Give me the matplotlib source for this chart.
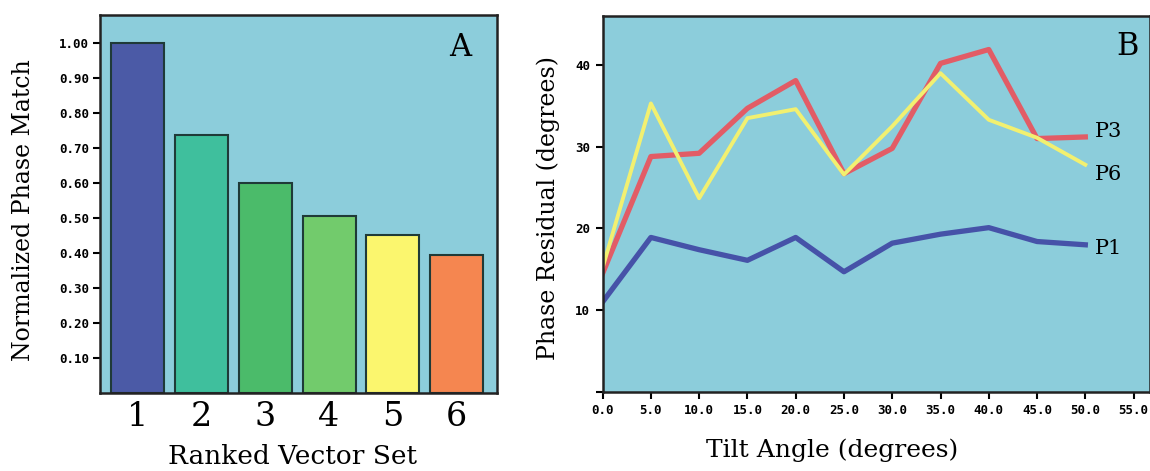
import matplotlib
matplotlib.use('Agg')
import matplotlib.pyplot as plt
import numpy as np

# panel A data
ranks = [1, 2, 3, 4, 5, 6]
phase_match = [1.00, 0.737, 0.600, 0.506, 0.451, 0.395]
bar_colors = ['#4b5aa6', '#3fbf9d', '#4bbb6a', '#72cb6c', '#fbf66e', '#f58650']
a_yticks = [0.1, 0.2, 0.3, 0.4, 0.5, 0.6, 0.7, 0.8, 0.9, 1.0]

# panel B data
tilt = [0, 5, 10, 15, 20, 25, 30, 35, 40, 45, 50]
p1 = [11.0, 18.9, 17.4, 16.1, 18.9, 14.7, 18.2, 19.3, 20.1, 18.4, 18.0]
p3 = [14.5, 28.8, 29.2, 34.7, 38.1, 26.7, 29.8, 40.2, 41.9, 31.0, 31.2]
p6 = [15.2, 35.3, 23.7, 33.5, 34.6, 26.6, 32.5, 39.0, 33.3, 31.1, 27.8]
b_xticks = [0, 5, 10, 15, 20, 25, 30, 35, 40, 45, 50, 55]
b_yticks = [0, 10, 20, 30, 40]

bg = '#8ccddb'
serif = 'DejaVu Serif'
mono = dict(family='DejaVu Sans Mono', weight='bold', size=9)

fig = plt.figure(figsize=(11.5, 4.71), dpi=100)

# ---- panel A
ax = fig.add_axes([0.087, 0.1656, 0.345, 0.8024])
ax.set_facecolor(bg)
ax.bar(ranks, phase_match, width=0.83, color=bar_colors, edgecolor='#1f3a38', linewidth=1.5)
ax.set_xlim(0.41, 6.63)
ax.set_ylim(0, 1.08)
ax.set_yticks(a_yticks)
ax.set_yticklabels(['%.2f' % v for v in a_yticks], fontdict=mono)
ax.set_xticks(ranks)
ax.set_xticklabels([str(r) for r in ranks], family=serif, fontsize=24)
ax.tick_params(axis='x', length=0, pad=6)
ax.tick_params(axis='y', length=5, width=1.5, pad=3)
for s in ax.spines.values():
    s.set_linewidth(1.8)
    s.set_color('#222222')
ax.set_ylabel('Normalized Phase Match', family=serif, fontsize=17)
ax.yaxis.set_label_coords(-0.165, 0.484)
ax.set_xlabel('Ranked Vector Set', family=serif, fontsize=19)
ax.xaxis.set_label_coords(0.486, -0.135)
ax.text(0.907, 0.915, 'A', transform=ax.transAxes, family=serif, fontsize=22,
        ha='center', va='center')

# ---- panel B
bx = fig.add_axes([0.524, 0.168, 0.476, 0.798])
bx.set_facecolor(bg)
bx.plot(tilt, p1, color='#4652a8', lw=3.8, solid_joinstyle='round')
bx.plot(tilt, p3, color='#e25c66', lw=3.8, solid_joinstyle='round')
bx.plot(tilt, p6, color='#f2f070', lw=2.8, solid_joinstyle='round')
bx.set_xlim(0, 56.7)
bx.set_ylim(0, 46)
bx.set_xticks(b_xticks)
bx.set_xticklabels(['%.1f' % v for v in b_xticks], fontdict=mono)
bx.set_yticks(b_yticks)
bx.set_yticklabels([''] + [str(v) for v in b_yticks[1:]], fontdict=mono)
bx.tick_params(axis='both', length=5, width=1.5, pad=4)
for s in bx.spines.values():
    s.set_linewidth(1.8)
    s.set_color('#222222')
bx.set_ylabel('Phase Residual (degrees)', family=serif, fontsize=17)
bx.yaxis.set_label_coords(-0.078, 0.489)
bx.set_xlabel('Tilt Angle (degrees)', family=serif, fontsize=18)
bx.xaxis.set_label_coords(0.42, -0.125)
bx.text(0.958, 0.918, 'B', transform=bx.transAxes, family=serif, fontsize=22,
        ha='center', va='center')
for name, vals, dy in [('P3', p3, 4), ('P6', p6, -7), ('P1', p1, -3)]:
    bx.annotate(name, (tilt[-1], vals[-1]), xytext=(7, dy), textcoords='offset points',
                family=serif, fontsize=15, ha='left', va='center')

fig.savefig('out.png', dpi=100)
